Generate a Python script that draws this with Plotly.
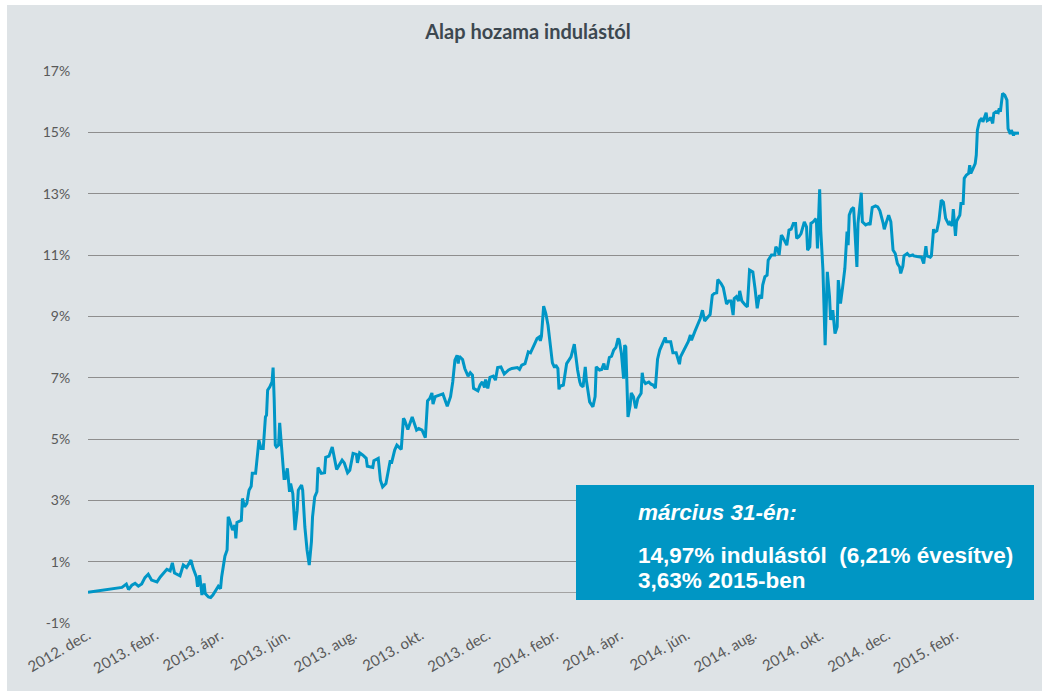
import pandas as pd
import plotly.graph_objects as go

# ---- data (days since 2012-12-01, cumulative return in %) ----
start_date = "2012-12-01"
end_date = "2015-03-31"
days = [
    0, 31, 35, 37, 40, 43, 46, 49, 52, 55,
    58, 63, 66, 69, 72, 75, 77, 79, 84, 87,
    90, 94, 96, 99, 100, 102, 104, 106, 107, 110,
    112, 114, 116, 119, 121, 122, 125, 127, 128, 129,
    132, 134, 135, 136, 140, 141, 143, 145, 147, 149,
    150, 153, 155, 156, 158, 160, 162, 163, 164, 166,
    168, 169, 170, 171, 172, 174, 175, 177, 179, 180,
    182, 184, 185, 187, 189, 191, 192, 195, 196, 198,
    200, 202, 204, 205, 207, 209, 210, 213, 216, 217,
    220, 223, 227, 232, 234, 237, 239, 242, 245, 246,
    248, 251, 254, 255, 260, 261, 265, 267, 269, 272,
    274, 276, 277, 280, 282, 286, 288, 289, 292, 296,
    300, 302, 305, 308, 310, 312, 314, 315, 317, 320,
    324, 328, 331, 333, 335, 337, 338, 339, 342, 344,
    347, 349, 351, 352, 356, 358, 360, 362, 363, 365,
    367, 370, 372, 374, 377, 380, 384, 387, 392, 394,
    396, 399, 402, 404, 405, 408, 410, 412, 413, 414,
    416, 418, 420, 422, 424, 426, 427, 429, 430, 431,
    434, 437, 439, 441, 444, 445, 447, 449, 450, 452,
    454, 455, 457, 458, 461, 463, 464, 467, 469, 471,
    472, 474, 476, 478, 480, 482, 484, 485, 487, 489,
    490, 491, 493, 495, 496, 498, 500, 502, 505, 506,
    507, 509, 512, 514, 516, 518, 520, 522, 527, 528,
    532, 534, 537, 540, 541, 544, 547, 548, 550, 551,
    554, 557, 559, 561, 563, 566, 568, 570, 572, 574,
    575, 578, 580, 582, 583, 585, 587, 589, 590, 592,
    594, 595, 597, 600, 602, 604, 607, 609, 611, 613,
    615, 616, 618, 620, 621, 624, 627, 628, 630, 631,
    633, 634, 636, 638, 640, 642, 644, 646, 647, 649,
    651, 653, 654, 656, 657, 659, 660, 662, 664, 665,
    666, 668, 669, 671, 673, 675, 677, 678, 680, 682,
    684, 685, 687, 689, 691, 693, 694, 695, 697, 699,
    700, 702, 703, 706, 707, 710, 713, 714, 716, 719,
    721, 723, 726, 727, 729, 731, 733, 735, 737, 739,
    741, 742, 744, 745, 748, 750, 753, 754, 757, 759,
    761, 763, 765, 766, 769, 770, 772, 773, 775, 777,
    779, 781, 783, 786, 787, 789, 790, 792, 793, 796,
    797, 799, 800, 802, 804, 805, 806, 808, 810, 811,
    812, 814, 816, 817, 819, 820, 821, 823, 824, 826,
    827, 829, 831, 832, 833, 835, 837, 839, 840, 842,
    843, 845, 846, 850,
]
returns = [
    0.00, 0.16, 0.27, 0.09, 0.23, 0.29, 0.20, 0.27, 0.48, 0.59,
    0.40, 0.34, 0.50, 0.61, 0.75, 0.70, 0.96, 0.63, 0.54, 0.89,
    0.81, 1.05, 0.78, 0.50, 0.18, 0.56, -0.09, 0.29, -0.04, -0.15,
    -0.17, -0.09, 0.01, 0.20, 0.12, 0.50, 1.18, 1.38, 2.46, 2.38,
    2.03, 2.19, 1.76, 2.28, 2.35, 3.06, 2.79, 2.90, 3.33, 3.46,
    3.88, 3.88, 4.58, 4.96, 4.69, 4.69, 5.72, 5.78, 6.59, 6.70,
    6.86, 7.33, 6.27, 4.80, 4.74, 4.80, 5.53, 4.74, 3.71, 3.71,
    4.04, 3.28, 3.55, 3.22, 2.03, 2.68, 3.33, 3.50, 3.33, 2.13,
    1.38, 0.89, 1.65, 2.46, 3.11, 3.28, 4.07, 3.88, 3.90, 4.40,
    4.44, 4.74, 4.01, 4.31, 4.22, 3.90, 3.98, 4.53, 4.50, 4.22,
    4.55, 4.47, 4.37, 4.11, 4.07, 4.29, 4.37, 3.66, 3.44, 3.55,
    3.88, 4.31, 4.20, 4.64, 4.80, 4.66, 5.67, 5.62, 5.31, 5.72,
    5.29, 5.34, 5.29, 5.04, 6.24, 6.32, 6.50, 6.14, 6.38, 6.43,
    6.47, 6.07, 6.38, 6.86, 7.57, 7.73, 7.46, 7.70, 7.59, 7.30,
    7.05, 7.16, 7.08, 6.65, 6.57, 6.76, 6.86, 6.68, 6.94, 6.65,
    7.01, 7.05, 6.92, 7.33, 7.35, 7.12, 7.25, 7.30, 7.33, 7.27,
    7.41, 7.46, 7.84, 7.81, 7.90, 8.12, 8.28, 8.33, 8.20, 8.35,
    9.33, 9.09, 8.71, 8.00, 7.48, 7.33, 7.41, 7.30, 6.62, 6.72,
    6.76, 7.46, 7.57, 7.68, 8.09, 7.79, 7.25, 6.86, 6.76, 6.70,
    7.35, 6.92, 6.38, 6.21, 6.05, 6.38, 7.35, 7.25, 7.27, 7.46,
    7.30, 7.30, 7.66, 7.70, 7.90, 7.99, 8.28, 8.22, 7.79, 6.97,
    8.06, 8.00, 5.72, 6.10, 6.50, 6.38, 6.00, 6.32, 6.49, 7.16,
    6.92, 6.81, 6.86, 6.79, 6.76, 6.66, 7.60, 7.90, 8.31, 8.17,
    8.17, 7.81, 7.81, 7.44, 7.68, 7.88, 8.06, 8.17, 8.39, 8.22,
    8.50, 8.75, 8.93, 9.20, 8.85, 8.98, 9.06, 9.69, 9.75, 9.77,
    10.20, 10.07, 9.94, 9.58, 9.40, 9.50, 9.50, 9.04, 9.58, 9.64,
    9.50, 9.83, 9.50, 9.37, 9.31, 10.51, 10.45, 9.91, 9.26, 9.69,
    9.58, 10.02, 10.29, 10.34, 10.83, 11.00, 11.00, 11.27, 11.16, 11.00,
    11.65, 11.60, 11.43, 11.32, 11.81, 11.84, 12.03, 12.03, 11.54, 11.60,
    11.70, 12.03, 12.08, 11.92, 11.16, 11.27, 12.03, 12.08, 12.16, 12.14,
    11.21, 13.14, 11.81, 10.51, 8.06, 10.45, 9.64, 8.88, 9.20, 8.44,
    8.66, 10.18, 9.42, 9.96, 10.56, 11.76, 11.32, 12.30, 12.49, 12.55,
    11.81, 10.61, 12.03, 13.03, 12.08, 11.98, 12.03, 11.98, 12.55, 12.60,
    12.57, 12.44, 12.03, 11.84, 12.08, 12.30, 12.08, 11.16, 11.05, 10.72,
    10.61, 10.40, 10.64, 10.97, 11.05, 10.97, 11.00, 10.97, 10.95, 10.93,
    10.93, 10.72, 11.29, 10.97, 10.93, 10.97, 11.84, 11.75, 11.79, 12.14,
    12.79, 12.72, 12.20, 11.98, 12.05, 11.95, 12.50, 11.62, 12.10, 12.30,
    12.68, 12.68, 13.50, 13.61, 13.66, 13.93, 13.66, 13.82, 13.98, 14.26,
    15.07, 15.38, 15.46, 15.34, 15.53, 15.64, 15.38, 15.42, 15.49, 15.29,
    15.62, 15.67, 15.64, 15.78, 15.67, 16.27, 16.21, 16.05, 15.12, 14.95,
    15.07, 14.90, 14.98, 14.97,
]
n = min(len(days), len(returns))
days, returns = days[:n], returns[:n]

tick_dates = ["2012-12-01", "2013-02-01", "2013-04-01", "2013-06-01", "2013-08-01",
              "2013-10-01", "2013-12-01", "2014-02-01", "2014-04-01", "2014-06-01",
              "2014-08-01", "2014-10-01", "2014-12-01", "2015-02-01"]
tick_labels = ["2012. dec.", "2013. febr.", "2013. ápr.", "2013. jún.", "2013. aug.",
               "2013. okt.", "2013. dec.", "2014. febr.", "2014. ápr.", "2014. jún.",
               "2014. aug.", "2014. okt.", "2014. dec.", "2015. febr."]
y_ticks = [-1, 1, 3, 5, 7, 9, 11, 13, 15, 17]
y_labels = ["-1%", "1%", "3%", "5%", "7%", "9%", "11%", "13%", "15%", "17%"]

title_text = "Alap hozama indulástól"
box_lines = ["<i>március 31-én:</i>",
             "14,97% indulástól  (6,21% évesítve)",
             "3,63% 2015-ben"]

dates = pd.Timestamp(start_date) + pd.to_timedelta(days, unit="D")

BG = "#DEE3E6"
BLUE = "#0096C6"
GRID = "#8E8E8E"

fig = go.Figure()
fig.add_trace(go.Scatter(x=dates, y=returns, mode="lines",
                         line=dict(color=BLUE, width=3), hoverinfo="skip"))

W, H = 1042, 691
L, R, T, B = 88, 23, 71, 68
pw, ph = W - L - R, H - T - B

def px(x):
    return (x - L) / pw

def py(y):
    return (H - B - y) / ph

fig.update_layout(
    width=W, height=H,
    margin=dict(l=L, r=R, t=T, b=B, pad=0),
    paper_bgcolor="white", plot_bgcolor=BG,
    showlegend=False,
    title=dict(text="<b>" + title_text + "</b>",
               xref="container", yref="container",
               x=528 / W, xanchor="center",
               y=1 - 32 / H, yanchor="middle",
               font=dict(family="Lato", size=20, color="#3D4850")),
    font=dict(family="Lato", color="#595959"),
    xaxis=dict(type="date", range=[start_date, end_date],
               tickvals=tick_dates, ticktext=tick_labels, tickangle=-30,
               showgrid=False, zeroline=False, showline=False,
               ticks="",
               tickfont=dict(family="Lato", size=15, color="#595959")),
    yaxis=dict(range=[-1, 17], tickvals=y_ticks, ticktext=y_labels,
               showgrid=True, gridcolor=GRID, gridwidth=1,
               zeroline=True, zerolinecolor="#A3A3A3", zerolinewidth=1,
               showline=False, ticks="outside", ticklen=14,
               tickcolor="rgba(0,0,0,0)",
               tickfont=dict(family="Lato", size=14, color="#595959")),
)

# grey panel background
fig.add_shape(type="rect", xref="paper", yref="paper",
              x0=px(7), x1=px(W + 5), y0=py(H + 5), y1=py(5),
              fillcolor=BG, line=dict(width=0), layer="below")
# info box
fig.add_shape(type="rect", xref="paper", yref="paper",
              x0=px(576), x1=px(1034), y0=py(600), y1=py(485),
              fillcolor="#0096C4", line=dict(width=0), layer="above")

box_y = [512, 555, 580]
for txt, yy in zip(box_lines, box_y):
    fig.add_annotation(text="<b>" + txt + "</b>", xref="paper", yref="paper",
                       x=px(636), y=py(yy), xanchor="left", yanchor="middle",
                       showarrow=False,
                       font=dict(family="Liberation Sans", size=22.5, color="white"))

fig.write_html("out.html", config={"displayModeBar": False},
               post_script="document.body.style.margin='0';")
